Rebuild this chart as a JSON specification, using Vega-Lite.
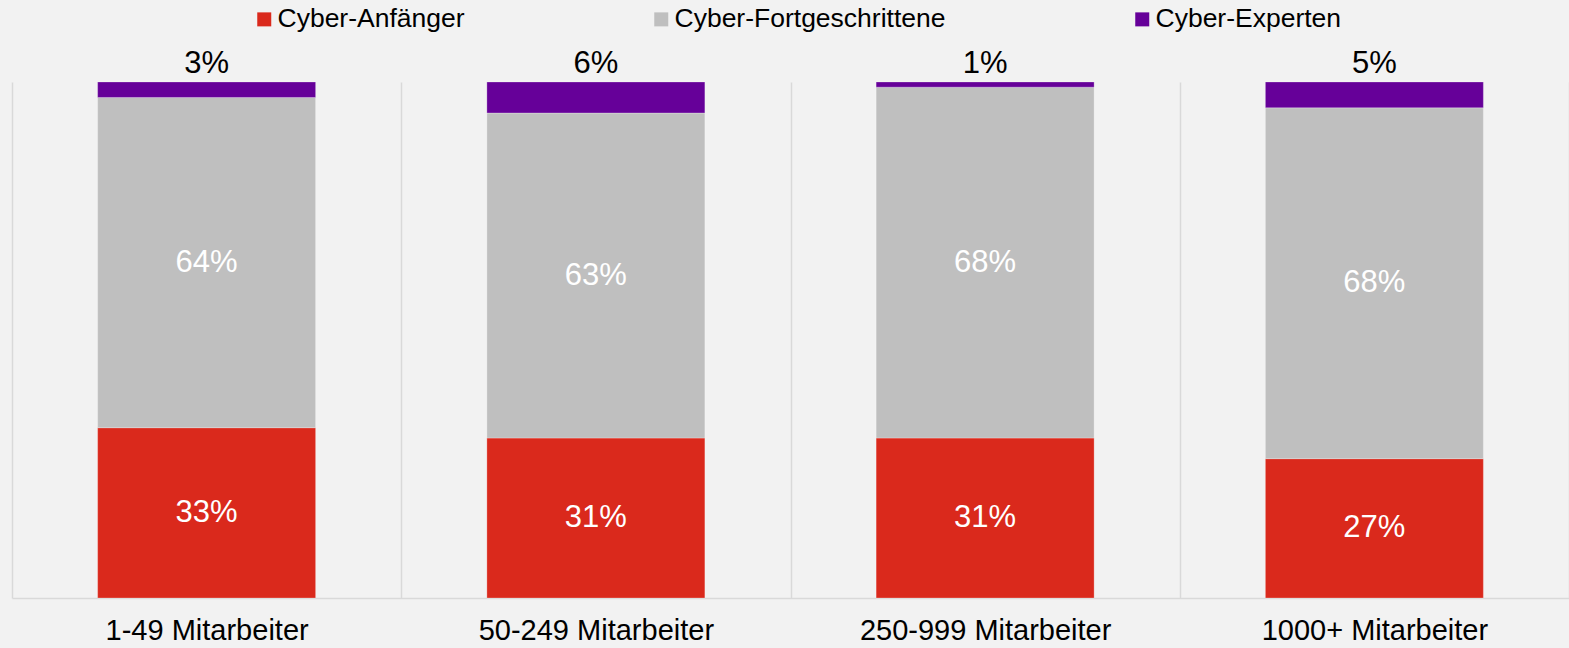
{
  "$schema": "https://vega.github.io/schema/vega-lite/v6.json",
  "autosize": {"type": "none"},
  "padding": {"left": 12, "top": 82, "right": 0, "bottom": 50},
  "width": 1557,
  "height": 516,
  "background": "#f2f2f2",
  "config": {
    "view": {"stroke": null},
    "font": "Liberation Sans"
  },
  "data": {
    "values": [
      {"group": "1-49 Mitarbeiter", "segment": "Cyber-Anfänger", "level": 1, "value": 0.33},
      {"group": "1-49 Mitarbeiter", "segment": "Cyber-Fortgeschrittene", "level": 2, "value": 0.64},
      {"group": "1-49 Mitarbeiter", "segment": "Cyber-Experten", "level": 3, "value": 0.03},
      {"group": "50-249 Mitarbeiter", "segment": "Cyber-Anfänger", "level": 1, "value": 0.31},
      {"group": "50-249 Mitarbeiter", "segment": "Cyber-Fortgeschrittene", "level": 2, "value": 0.63},
      {"group": "50-249 Mitarbeiter", "segment": "Cyber-Experten", "level": 3, "value": 0.06},
      {"group": "250-999 Mitarbeiter", "segment": "Cyber-Anfänger", "level": 1, "value": 0.31},
      {"group": "250-999 Mitarbeiter", "segment": "Cyber-Fortgeschrittene", "level": 2, "value": 0.68},
      {"group": "250-999 Mitarbeiter", "segment": "Cyber-Experten", "level": 3, "value": 0.01},
      {"group": "1000+ Mitarbeiter", "segment": "Cyber-Anfänger", "level": 1, "value": 0.27},
      {"group": "1000+ Mitarbeiter", "segment": "Cyber-Fortgeschrittene", "level": 2, "value": 0.68},
      {"group": "1000+ Mitarbeiter", "segment": "Cyber-Experten", "level": 3, "value": 0.05}
    ]
  },
  "encoding": {
    "x": {
      "field": "group",
      "type": "nominal",
      "sort": null,
      "scale": {"paddingInner": 0, "paddingOuter": 0},
      "axis": {
        "title": null,
        "labelAngle": 0,
        "labelFontSize": 29,
        "labelColor": "#000000",
        "labelFont": "Liberation Sans",
        "labelPadding": 18,
        "labelLimit": 0,
        "ticks": false,
        "tickSize": 0,
        "grid": true,
        "gridColor": "#d9d9d9",
        "gridWidth": 1.5,
        "tickBand": "extent",
        "domainColor": "#d9d9d9",
        "domainWidth": 1.5
      }
    }
  },
  "layer": [
    {
      "mark": {"type": "bar", "width": {"band": 0.56}, "stroke": "#ffffff", "strokeOpacity": 0.25, "strokeWidth": 1},
      "encoding": {
        "y": {"field": "value", "type": "quantitative", "stack": "zero", "scale": {"domain": [0, 1]}, "axis": null},
        "order": {"field": "level", "type": "ordinal"},
        "color": {
          "field": "segment",
          "type": "nominal",
          "scale": {
            "domain": ["Cyber-Anfänger", "Cyber-Fortgeschrittene", "Cyber-Experten"],
            "range": ["#DA291C", "#BFBFBF", "#660099"]
          },
          "legend": {
            "title": null,
            "orient": "none",
            "direction": "horizontal",
            "legendX": 239,
            "legendY": -76,
            "symbolType": "square",
            "symbolSize": 196,
            "symbolStrokeWidth": 0,
            "labelFontSize": 26.5,
            "labelFont": "Liberation Sans",
            "labelColor": "#000000",
            "labelOffset": 0,
            "labelLimit": 0,
            "columnPadding": 183
          }
        }
      }
    },
    {
      "transform": [{"filter": "datum.segment !== 'Cyber-Experten'"}],
      "mark": {"type": "text", "color": "#ffffff", "fontSize": 31, "baseline": "middle"},
      "encoding": {
        "y": {"field": "value", "type": "quantitative", "stack": "zero", "bandPosition": 0.5},
        "order": {"field": "level", "type": "ordinal"},
        "detail": {"field": "segment"},
        "text": {"field": "value", "type": "quantitative", "format": ".0%"}
      }
    },
    {
      "mark": {"type": "text", "color": "#000000", "fontSize": 31, "baseline": "alphabetic", "dy": -9},
      "encoding": {
        "y": {"field": "value", "type": "quantitative", "stack": "zero"},
        "order": {"field": "level", "type": "ordinal"},
        "detail": {"field": "segment"},
        "text": {
          "condition": {"test": "datum.segment === 'Cyber-Experten'", "field": "value", "type": "quantitative", "format": ".0%"},
          "value": ""
        }
      }
    }
  ]
}
